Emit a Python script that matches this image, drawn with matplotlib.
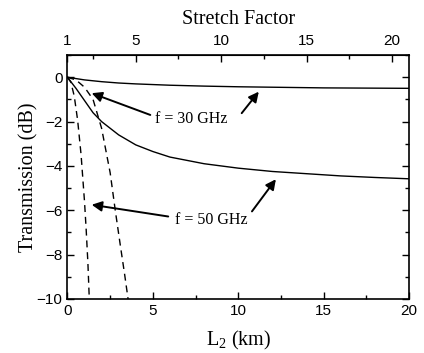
import matplotlib
matplotlib.use("Agg")
import matplotlib.pyplot as plt
from matplotlib.ticker import MultipleLocator, FixedLocator

# data
L2_30_solid = [0, 1, 2, 3, 4, 6, 8, 10, 12, 15, 20]
T_30_solid = [0, -0.12, -0.2, -0.26, -0.3, -0.36, -0.4, -0.43, -0.45, -0.48, -0.5]

L2_50_solid = [0, 0.5, 1, 1.5, 2, 3, 4, 5, 6, 7, 8, 10, 12, 14, 16, 18, 20]
T_50_solid = [0, -0.5, -1.05, -1.6, -2.0, -2.6, -3.05, -3.35, -3.6, -3.75,
              -3.9, -4.1, -4.25, -4.35, -4.45, -4.52, -4.58]

L2_50_dash = [0, 0.2, 0.4, 0.6, 0.8, 1.0, 1.1, 1.2, 1.28]
T_50_dash = [0, -0.22, -0.85, -1.95, -3.5, -5.6, -6.9, -8.4, -10]

L2_30_dash = [0, 0.5, 1.0, 1.5, 2.0, 2.5, 2.8, 3.1, 3.35, 3.55]
T_30_dash = [0, -0.12, -0.45, -1.0, -2.3, -4.3, -6.0, -7.6, -8.9, -10]

stretch_ticks = [1, 5, 10, 15, 20]

SERIF = "Liberation Serif"
SANS = "Liberation Sans"
plt.rcParams["mathtext.fontset"] = "custom"
plt.rcParams["mathtext.rm"] = SERIF
plt.rcParams["mathtext.it"] = SERIF + ":italic"

fig = plt.figure(figsize=(4.24, 3.53), dpi=100)
ax = fig.add_axes([0.159, 0.153, 0.806, 0.691])

ax.plot(L2_30_solid, T_30_solid, color="black", lw=1.0)
ax.plot(L2_50_solid, T_50_solid, color="black", lw=1.0)
ax.plot(L2_50_dash, T_50_dash, color="black", lw=1.0, dashes=(5, 3.5))
ax.plot(L2_30_dash, T_30_dash, color="black", lw=1.0, dashes=(5, 3.5))

ax.set_xlim(0, 20)
ax.set_ylim(-10, 1)
ax.xaxis.set_major_locator(MultipleLocator(5))
ax.xaxis.set_minor_locator(MultipleLocator(2.5))
ax.yaxis.set_major_locator(MultipleLocator(2))
ax.yaxis.set_minor_locator(MultipleLocator(1))
ax.tick_params(which="both", direction="in", top=False, right=True,
               labelsize=11, width=1)
ax.tick_params(which="major", length=5)
ax.tick_params(which="minor", length=3)
for lab in ax.get_xticklabels() + ax.get_yticklabels():
    lab.set_family(SANS)
for sp in ax.spines.values():
    sp.set_linewidth(1.2)

ax.set_xlabel(r"L$_\mathregular{2}$ (km)", family=SERIF, fontsize=14.5, labelpad=8)
ax.set_ylabel("Transmission (dB)", family=SERIF, fontsize=14.5, labelpad=-1)

# top axis: stretch factor
top = ax.secondary_xaxis("top", functions=(lambda x: x + 1, lambda s: s - 1))
top.xaxis.set_major_locator(FixedLocator(stretch_ticks))
top.xaxis.set_minor_locator(FixedLocator([2.5, 7.5, 12.5, 17.5]))
top.tick_params(which="both", direction="in", labelsize=11, width=1)
top.tick_params(which="major", length=5, pad=5)
top.tick_params(which="minor", length=3)
for lab in top.get_xticklabels():
    lab.set_family(SANS)
top.set_xlabel("Stretch Factor", family=SERIF, fontsize=14.5, labelpad=7)

# annotations
arrow = dict(arrowstyle="-|>", color="black", lw=1.4, mutation_scale=15,
             shrinkA=0, shrinkB=0)
ax.text(7.25, -1.9, "f = 30 GHz", family=SERIF, fontsize=11.5,
        ha="center", va="center")
ax.annotate("", xy=(1.42, -0.72), xytext=(4.85, -1.7), arrowprops=arrow)
ax.annotate("", xy=(11.2, -0.65), xytext=(10.2, -1.62), arrowprops=arrow)

ax.text(8.4, -6.45, "f = 50 GHz", family=SERIF, fontsize=11.5,
        ha="center", va="center")
ax.annotate("", xy=(1.42, -5.75), xytext=(5.9, -6.28), arrowprops=arrow)
ax.annotate("", xy=(12.2, -4.6), xytext=(10.8, -6.05), arrowprops=arrow)

fig.savefig("out.png", dpi=100)
